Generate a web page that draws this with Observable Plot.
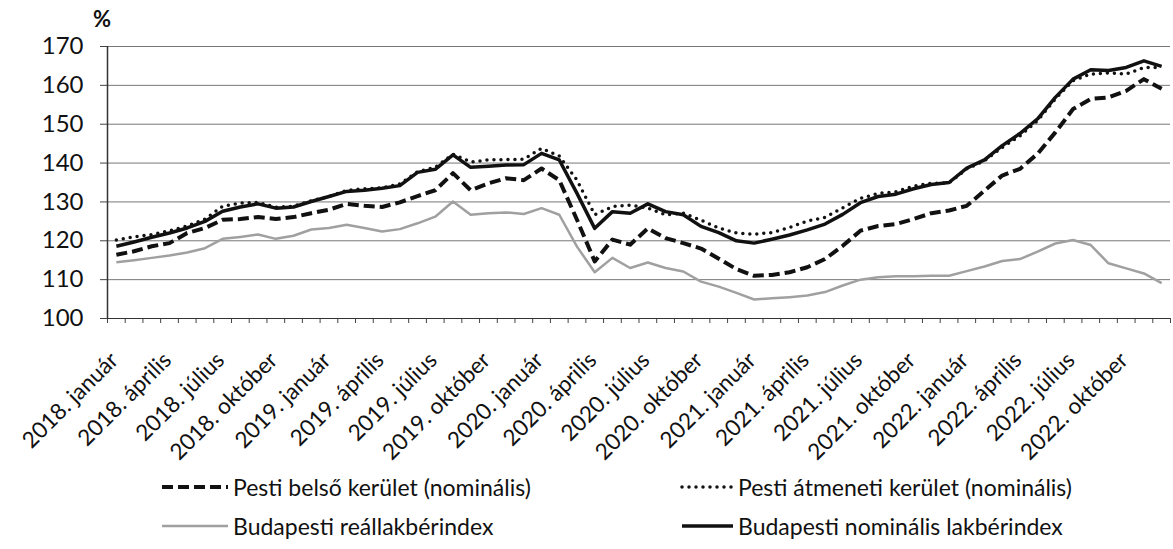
<!DOCTYPE html>
<html>
<head>
<meta charset="utf-8">
<script src="https://cdn.jsdelivr.net/npm/d3@7"></script>
<script src="https://cdn.jsdelivr.net/npm/@observablehq/plot@0.6"></script>
<style>
  body { margin: 0; background: #fff; font-family: Lato, "Open Sans", sans-serif; }
  #wrap { position: relative; width: 1173px; height: 549px; overflow: hidden; }
  #chart { position: absolute; left: 0; top: 0; }
  #pct { position: absolute; left: 93px; top: 5px; font-size: 22px; font-weight: bold; color: #111; }
  .leg { position: absolute; display: flex; align-items: center; font-size: 23px; color: #111; white-space: nowrap; }
  .leg svg { margin-right: 3px; }
</style>
</head>
<body>
<div id="wrap">
  <div id="chart"></div>
  <div id="pct">%</div>
  <div id="legend"></div>
</div>
<script>
const years = ["2018", "2019", "2020", "2021", "2022"];
const monthNames = ["január", "február", "március", "április", "május", "június",
  "július", "augusztus", "szeptember", "október", "november", "december"];
const categories = years.flatMap(y => monthNames.map(m => `${y}. ${m}`));

// Pesti belső kerület (nominális)
const belso = [116.4, 117.3, 118.6, 119.4, 122.0, 123.3, 125.4, 125.6, 126.1, 125.6, 126.1, 127.1,
  128.0, 129.5, 129.0, 128.7, 129.9, 131.5, 133.0, 137.4, 133.0, 134.8, 136.1, 135.6,
  138.6, 135.6, 125.4, 114.7, 120.3, 119.0, 123.2, 120.7, 119.4, 118.0, 115.4, 112.7,
  111.0, 111.2, 111.9, 113.2, 115.3, 118.7, 122.6, 123.8, 124.3, 125.6, 127.1, 127.8,
  129.0, 132.9, 136.8, 138.5, 142.4, 147.9, 153.9, 156.5, 156.9, 158.6, 161.6, 159.1];
// Pesti átmeneti kerület (nominális)
const atmeneti = [120.2, 121.0, 121.6, 122.6, 123.8, 125.6, 128.9, 129.7, 129.9, 128.6, 128.9, 130.3,
  131.4, 133.0, 133.4, 133.6, 134.6, 137.8, 138.9, 142.3, 140.3, 140.8, 140.9, 141.0,
  143.8, 141.8, 135.6, 126.7, 128.8, 129.2, 128.4, 126.7, 127.1, 125.3, 123.3, 122.0,
  121.7, 122.1, 123.4, 125.1, 126.0, 128.5, 130.9, 132.2, 132.6, 134.1, 134.8, 134.9,
  138.5, 140.6, 144.0, 147.0, 150.9, 156.5, 161.2, 162.9, 163.2, 162.9, 164.6, 164.6];
// Budapesti reállakbérindex
const real = [114.5, 115.0, 115.6, 116.2, 117.0, 118.1, 120.5, 121.0, 121.6, 120.5, 121.3, 122.9,
  123.3, 124.1, 123.3, 122.4, 123.0, 124.5, 126.2, 130.1, 126.7, 127.1, 127.3, 126.9,
  128.4, 126.7, 118.5, 111.9, 115.6, 113.0, 114.4, 113.0, 112.1, 109.5, 108.2, 106.6,
  104.9, 105.2, 105.5, 105.9, 106.8, 108.5, 110.0, 110.6, 110.9, 110.9, 111.0, 111.0,
  112.2, 113.4, 114.8, 115.3, 117.2, 119.3, 120.2, 118.9, 114.2, 112.9, 111.6, 109.1];
// Budapesti nominális lakbérindex
const nominal = [118.6, 119.7, 120.9, 122.0, 123.3, 125.0, 127.6, 128.7, 129.5, 128.4, 128.7, 130.1,
  131.4, 132.7, 133.0, 133.5, 134.2, 137.6, 138.4, 142.1, 138.9, 139.2, 139.5, 139.6,
  142.5, 140.8, 132.2, 123.2, 127.5, 127.1, 129.5, 127.5, 126.7, 123.7, 122.1, 120.0,
  119.4, 120.4, 121.5, 122.8, 124.3, 126.8, 129.8, 131.4, 132.0, 133.4, 134.5, 135.0,
  138.7, 140.8, 144.5, 147.6, 151.4, 156.9, 161.6, 164.0, 163.8, 164.6, 166.3, 164.9];

const yTicks = [100, 110, 120, 130, 140, 150, 160, 170];
const labelIdx = d3.range(0, categories.length, 3);
const boundaries = d3.range(categories.length + 1).map(i => i - 0.5);
const xDomain = [-0.5, categories.length - 0.5];

const series = [
  {name: "Pesti belső kerület (nominális)", values: belso, stroke: "#111", width: 4, dash: "11,5", cap: "butt"},
  {name: "Pesti átmeneti kerület (nominális)", values: atmeneti, stroke: "#111", width: 3.5, dash: "0,7", cap: "round"},
  {name: "Budapesti reállakbérindex", values: real, stroke: "#a0a0a0", width: 2.5, dash: null, cap: "butt"},
  {name: "Budapesti nominális lakbérindex", values: nominal, stroke: "#111", width: 3.5, dash: null, cap: "butt"}
];
const drawOrder = [2, 0, 1, 3];

const chart = Plot.plot({
  width: 1173,
  height: 462,
  marginLeft: 107,
  marginRight: 3,
  marginTop: 46,
  marginBottom: 144,
  style: {fontFamily: "Lato, 'Open Sans', sans-serif", background: "white", color: "#111", overflow: "visible"},
  x: {type: "linear", domain: xDomain},
  y: {domain: [100, 170]},
  marks: [
    Plot.gridY(yTicks, {stroke: "#555", strokeOpacity: 0.8, strokeWidth: 1}),
    Plot.axisY(yTicks, {tickSize: 7, tickPadding: 17, fontSize: 24, label: null, stroke: "#444"}),
    Plot.axisX(boundaries, {tickSize: 5, tickFormat: () => "", label: null, stroke: "#444"}),
    Plot.axisX(labelIdx, {tickSize: 0, tickPadding: 38, tickRotate: -45, fontSize: 22.5, dx: -2,
      tickFormat: i => categories[i], label: null}),
    Plot.ruleY([yTicks[0]], {stroke: "#333", strokeWidth: 1.2}),
    Plot.ruleX([xDomain[0]], {stroke: "#333", strokeWidth: 1.5}),
    ...drawOrder.map(k => {
      const s = series[k];
      return Plot.lineY(s.values, {
        stroke: s.stroke, strokeWidth: s.width,
        strokeDasharray: s.dash || undefined, strokeLinecap: s.cap, strokeLinejoin: "round"
      });
    })
  ]
});
document.getElementById("chart").appendChild(chart);

// Legend
const legendPos = [
  {left: 160, top: 473}, {left: 680, top: 473},
  {left: 160, top: 512}, {left: 680, top: 512}
];
const legendEl = document.getElementById("legend");
series.forEach((s, k) => {
  const p = legendPos[k];
  const div = document.createElement("div");
  div.className = "leg";
  div.style.left = p.left + "px";
  div.style.top = p.top + "px";
  const w = k % 2 === 0 ? 70 : 55;
  const dash = s.dash ? `stroke-dasharray="${s.dash}"` : "";
  div.innerHTML = `<svg width="${w}" height="28"><line x1="2" x2="${w - 2}" y1="14" y2="14" stroke="${s.stroke}" stroke-width="${s.width}" ${dash} stroke-linecap="${s.cap}"/></svg><span>${s.name}</span>`;
  legendEl.appendChild(div);
});
</script>
</body>
</html>
